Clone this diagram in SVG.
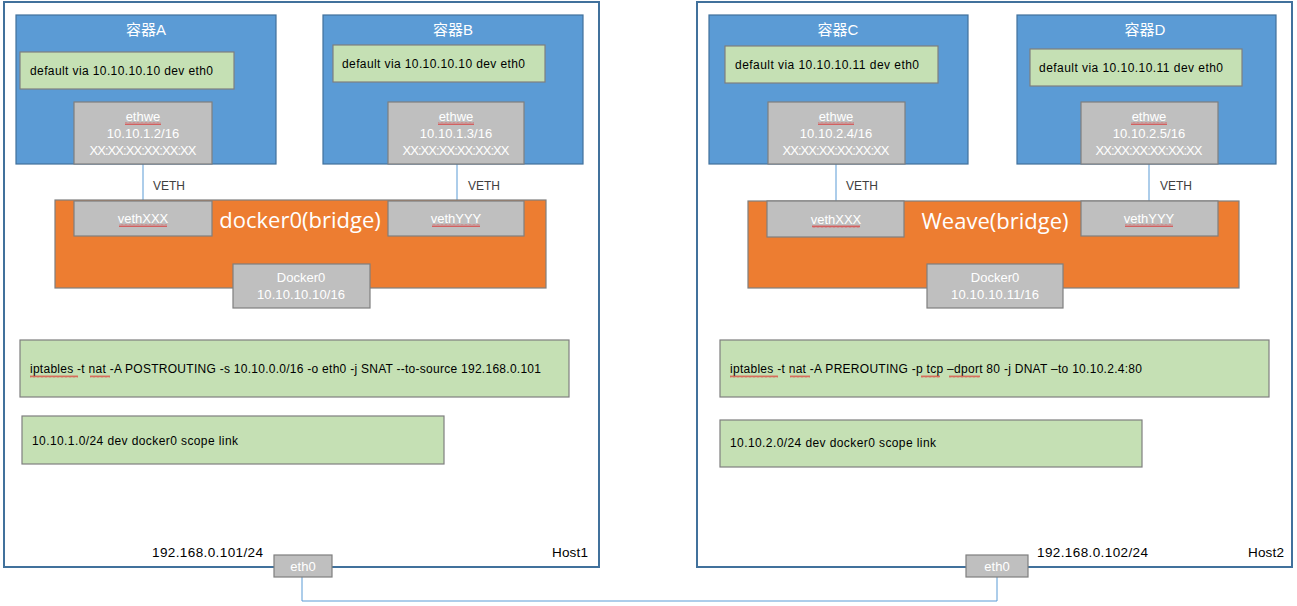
<svg xmlns="http://www.w3.org/2000/svg" width="1297" height="606" viewBox="0 0 1297 606">
<style>
.host{fill:#fff;stroke:#41719C;stroke-width:2}
.ctr{fill:#5B9BD5;stroke:#41719C;stroke-width:1.2}
.green{fill:#C5E0B4;stroke:#7F7F7F;stroke-width:1.2}
.gray{fill:#BFBFBF;stroke:#7F7F7F;stroke-width:1.2}
.orange{fill:#ED7D31;stroke:#7F7F7F;stroke-width:1.2}
.link{fill:none;stroke:#5B9BD5;stroke-width:1}
.t{font-family:"Liberation Sans","Noto Sans CJK SC",sans-serif;font-size:12px;fill:#000}
.b{font-family:"Liberation Sans",sans-serif;font-size:13.5px;fill:#000}
.w{font-family:"Liberation Sans","Noto Sans CJK SC",sans-serif;font-size:13px;fill:#fff;text-anchor:middle}
.title{font-family:"Liberation Sans","Noto Sans CJK SC",sans-serif;font-size:15px;fill:#fff;text-anchor:middle}
.big{font-family:"Open Sans","Liberation Sans",sans-serif;font-size:22px;fill:#fff;text-anchor:middle}
.lbl{font-family:"Liberation Sans",sans-serif;font-size:12px;fill:#404040}
</style>
<defs>
<pattern id="squig" width="4" height="3" patternUnits="userSpaceOnUse">
<path d="M0 2.5 L1 0.5 L2 2.5 L3 0.5 L4 2.5" fill="none" stroke="#E02020" stroke-width="0.6"/>
</pattern>
</defs>

<g id="host1">
<rect class="host" x="4" y="2" width="595" height="565"/>
<text class="b" x="152" y="557" textLength="111">192.168.0.101/24</text>
<text class="b" x="552" y="557" textLength="36">Host1</text>
</g>
<g id="host2">
<rect class="host" x="697" y="2" width="595" height="565"/>
<text class="b" x="1037" y="557" textLength="111">192.168.0.102/24</text>
<text class="b" x="1248" y="557" textLength="36">Host2</text>
</g>

<g id="connectors">
<line class="link" x1="143" y1="164" x2="143" y2="201"/>
<line class="link" x1="457" y1="164" x2="457" y2="201"/>
<line class="link" x1="836" y1="164" x2="836" y2="201"/>
<line class="link" x1="1149" y1="164" x2="1149" y2="201"/>
<path class="link" d="M302 577 V601 H997 V577"/>
<text class="lbl" x="153" y="190">VETH</text>
<text class="lbl" x="468" y="190">VETH</text>
<text class="lbl" x="846" y="190">VETH</text>
<text class="lbl" x="1160" y="190">VETH</text>
</g>

<g id="containerA">
<rect class="ctr" x="16" y="15" width="260" height="149"/>
<text class="title" x="146" y="35">容器A</text>
</g>
<g id="routeA">
<rect class="green" x="20" y="52" width="214" height="37"/>
<text class="t" x="30" y="75" textLength="183">default via 10.10.10.10 dev eth0</text>
</g>
<g id="ethweA">
<rect class="gray" x="74" y="102" width="138" height="62"/>
<text class="w" x="143" y="121">ethwe</text>
<text class="w" x="143" y="138">10.10.1.2/16</text>
<text class="w" x="143" y="155" textLength="107">XX:XX:XX:XX:XX:XX</text>
<rect x="125" y="122" width="36" height="3" fill="url(#squig)"/>
</g>

<g id="containerB">
<rect class="ctr" x="323" y="15" width="260" height="149"/>
<text class="title" x="453" y="35">容器B</text>
</g>
<g id="routeB">
<rect class="green" x="333" y="45" width="212" height="37"/>
<text class="t" x="342" y="68" textLength="183">default via 10.10.10.10 dev eth0</text>
</g>
<g id="ethweB">
<rect class="gray" x="388" y="102" width="136" height="62"/>
<text class="w" x="456" y="121">ethwe</text>
<text class="w" x="456" y="138">10.10.1.3/16</text>
<text class="w" x="456" y="155" textLength="107">XX:XX:XX:XX:XX:XX</text>
<rect x="438" y="122" width="36" height="3" fill="url(#squig)"/>
</g>

<g id="docker0bridge">
<rect class="orange" x="55" y="200" width="491" height="88"/>
<text class="big" x="300" y="228">docker0(bridge)</text>
</g>
<g id="vethXXX1">
<rect class="gray" x="74" y="201" width="138" height="35"/>
<text class="w" x="143" y="223">vethXXX</text>
<rect x="119" y="224" width="48" height="3" fill="url(#squig)"/>
</g>
<g id="vethYYY1">
<rect class="gray" x="388" y="201" width="136" height="35"/>
<text class="w" x="456" y="223">vethYYY</text>
<rect x="432" y="224" width="48" height="3" fill="url(#squig)"/>
</g>
<g id="docker0A">
<rect class="gray" x="233" y="264" width="137" height="44"/>
<text class="w" x="301" y="282">Docker0</text>
<text class="w" x="301" y="299" textLength="88">10.10.10.10/16</text>
</g>

<g id="iptables1">
<rect class="green" x="20" y="340" width="549" height="57"/>
<text class="t" x="30" y="373" textLength="511">iptables -t nat -A POSTROUTING -s 10.10.0.0/16 -o eth0 -j SNAT --to-source 192.168.0.101</text>
<rect x="30" y="375" width="48" height="3" fill="url(#squig)"/>
<rect x="90" y="375" width="20" height="3" fill="url(#squig)"/>
</g>
<g id="scope1">
<rect class="green" x="22" y="416" width="422" height="48"/>
<text class="t" x="32" y="445" textLength="206">10.10.1.0/24 dev docker0 scope link</text>
</g>
<g id="eth0a">
<rect class="gray" x="274" y="555" width="58" height="22"/>
<text class="w" x="303" y="571">eth0</text>
</g>

<g id="containerC">
<rect class="ctr" x="709" y="15" width="259" height="149"/>
<text class="title" x="838" y="35">容器C</text>
</g>
<g id="routeC">
<rect class="green" x="725" y="46" width="213" height="37"/>
<text class="t" x="735" y="69" textLength="184">default via 10.10.10.11 dev eth0</text>
</g>
<g id="ethweC">
<rect class="gray" x="768" y="102" width="137" height="62"/>
<text class="w" x="836" y="121">ethwe</text>
<text class="w" x="836" y="138">10.10.2.4/16</text>
<text class="w" x="836" y="155" textLength="107">XX:XX:XX:XX:XX:XX</text>
<rect x="818" y="122" width="36" height="3" fill="url(#squig)"/>
</g>

<g id="containerD">
<rect class="ctr" x="1017" y="15" width="259" height="149"/>
<text class="title" x="1145" y="35">容器D</text>
</g>
<g id="routeD">
<rect class="green" x="1030" y="49" width="212" height="37"/>
<text class="t" x="1039" y="72" textLength="184">default via 10.10.10.11 dev eth0</text>
</g>
<g id="ethweD">
<rect class="gray" x="1081" y="102" width="137" height="62"/>
<text class="w" x="1149" y="121">ethwe</text>
<text class="w" x="1149" y="138">10.10.2.5/16</text>
<text class="w" x="1149" y="155" textLength="107">XX:XX:XX:XX:XX:XX</text>
<rect x="1131" y="122" width="36" height="3" fill="url(#squig)"/>
</g>

<g id="weavebridge">
<rect class="orange" x="748" y="201" width="491" height="87"/>
<text class="big" x="995" y="229">Weave(bridge)</text>
</g>
<g id="vethXXX2">
<rect class="gray" x="767" y="201" width="137" height="36"/>
<text class="w" x="836" y="224">vethXXX</text>
<rect x="812" y="225" width="48" height="3" fill="url(#squig)"/>
</g>
<g id="vethYYY2">
<rect class="gray" x="1081" y="201" width="137" height="35"/>
<text class="w" x="1149" y="223">vethYYY</text>
<rect x="1125" y="224" width="48" height="3" fill="url(#squig)"/>
</g>
<g id="docker0C">
<rect class="gray" x="927" y="264" width="136" height="44"/>
<text class="w" x="995" y="282">Docker0</text>
<text class="w" x="995" y="299" textLength="88">10.10.10.11/16</text>
</g>

<g id="iptables2">
<rect class="green" x="720" y="340" width="549" height="57"/>
<text class="t" x="730" y="373" textLength="412">iptables -t nat -A PREROUTING -p tcp –dport 80 -j DNAT –to 10.10.2.4:80</text>
<rect x="730" y="375" width="48" height="3" fill="url(#squig)"/>
<rect x="790" y="375" width="20" height="3" fill="url(#squig)"/>
<rect x="921" y="375" width="19" height="3" fill="url(#squig)"/>
<rect x="949" y="375" width="31" height="3" fill="url(#squig)"/>
</g>
<g id="scope2">
<rect class="green" x="720" y="420" width="422" height="47"/>
<text class="t" x="730" y="447" textLength="206">10.10.2.0/24 dev docker0 scope link</text>
</g>
<g id="eth0b">
<rect class="gray" x="966" y="555" width="62" height="22"/>
<text class="w" x="997" y="571">eth0</text>
</g>
</svg>
